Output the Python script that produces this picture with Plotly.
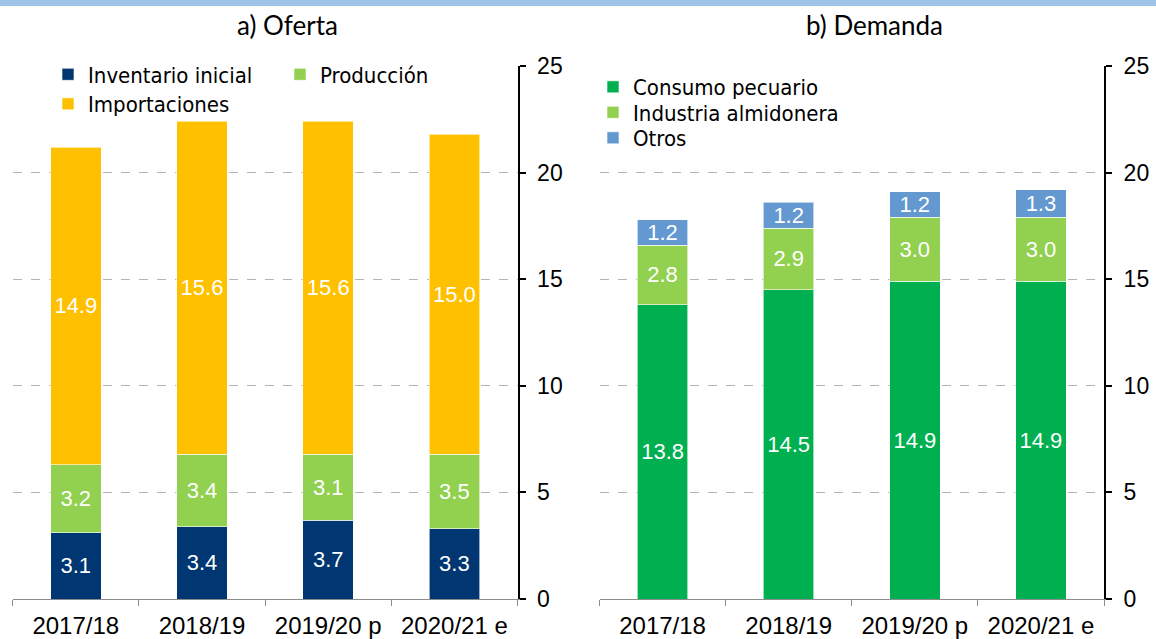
import plotly.graph_objects as go

# marketing years
years = ["2017/18", "2018/19", "2019/20 p", "2020/21 e"]

# a) Oferta (millones de toneladas)
inventario = [3.1, 3.4, 3.7, 3.3]
produccion = [3.2, 3.4, 3.1, 3.5]
importaciones = [14.9, 15.6, 15.6, 15.0]

# b) Demanda
consumo = [13.8, 14.5, 14.9, 14.9]
industria = [2.8, 2.9, 3.0, 3.0]
otros = [1.2, 1.2, 1.2, 1.3]

W, H = 1156, 639
NAVY, LGREEN, YELLOW, GREEN, BLUE = "#003671", "#92D050", "#FFC000", "#00B050", "#6398D0"
LBL = "Liberation Sans, Arial, sans-serif"
NARROW = "Liberation Sans Narrow, Arial Narrow, DejaVu Sans Condensed, sans-serif"


def bar(y, name, color, xa, ya, legend):
    return go.Bar(
        x=years, y=y, name=name, xaxis=xa, yaxis=ya, legend=legend,
        marker=dict(color=color, line=dict(color="rgba(255,255,255,0.6)", width=1)),
        text=y, texttemplate="%{y:.1f}", textposition="inside",
        insidetextanchor="middle", textangle=0, constraintext="none",
        textfont=dict(color="white", size=22, family=LBL),
    )


fig = go.Figure()
fig.add_trace(bar(inventario, "Inventario inicial", NAVY, "x", "y", "legend"))
fig.add_trace(bar(produccion, "Producción", LGREEN, "x", "y", "legend2"))
fig.add_trace(bar(importaciones, "Importaciones", YELLOW, "x", "y", "legend3"))
fig.add_trace(bar(consumo, "Consumo pecuario", GREEN, "x2", "y2", "legend4"))
fig.add_trace(bar(industria, "Industria almidonera", LGREEN, "x2", "y2", "legend5"))
fig.add_trace(bar(otros, "Otros", BLUE, "x2", "y2", "legend6"))

xa = dict(type="category", showline=True, linecolor="#8C8C8C", linewidth=1,
          ticks="outside", tickson="boundaries", ticklen=6, tickcolor="#8C8C8C",
          tickfont=dict(size=24, family=LBL, color="black"), ticklabelstandoff=5,
          showgrid=False, automargin=False)
ya = dict(range=[0, 25], dtick=5, side="right", showline=True, linecolor="black",
          linewidth=2, ticks="outside", ticklen=6, tickcolor="black", tickwidth=2,
          tickfont=dict(size=23, family=LBL, color="black"), ticklabelstandoff=7,
          showgrid=True, gridcolor="#B4B4B4", griddash="dash", gridwidth=1,
          zeroline=False, automargin=False)


def leg(xpx, ypx):
    return dict(x=xpx / W, y=1 - ypx / H, xanchor="left", yanchor="middle",
                bgcolor="rgba(0,0,0,0)", font=dict(size=22, family=NARROW, color="black"))


y0, y1 = 40 / H, 573 / H
fig.update_layout(
    width=W, height=H, margin=dict(l=0, r=0, t=0, b=0),
    paper_bgcolor="white", plot_bgcolor="white",
    barmode="stack", bargap=0.6,
    xaxis=dict(xa, domain=[12.7 / W, 517.5 / W], anchor="y"),
    yaxis=dict(ya, domain=[y0, y1], anchor="x"),
    xaxis2=dict(xa, domain=[599.5 / W, 1104 / W], anchor="y2"),
    yaxis2=dict(ya, domain=[y0, y1], anchor="x2"),
    legend=leg(48, 74.5),
    legend2=leg(280, 74.5),
    legend3=leg(48, 104),
    legend4=leg(593, 87),
    legend5=leg(593, 112.5),
    legend6=leg(593, 138),
    annotations=[
        dict(text="a) Oferta", x=287 / W, y=1 - 25 / H, xref="paper", yref="paper",
             xanchor="center", yanchor="middle", showarrow=False,
             font=dict(size=26, family="Lato, Open Sans, sans-serif", color="black")),
        dict(text="b) Demanda", x=874 / W, y=1 - 25 / H, xref="paper", yref="paper",
             xanchor="center", yanchor="middle", showarrow=False,
             font=dict(size=26, family="Lato, Open Sans, sans-serif", color="black")),
    ],
    shapes=[
        dict(type="rect", xref="paper", yref="paper", x0=0, x1=1, y0=1 - 6 / H, y1=1,
             fillcolor="#9DC3E6", line=dict(width=0), layer="above"),
        # white legend box hiding the top gridline in panel a)
        dict(type="rect", xref="paper", yref="paper", x0=40 / W, x1=505 / W,
             y0=1 - 72 / H, y1=1 - 60 / H, fillcolor="white", line=dict(width=0),
             layer="above"),
    ],
    showlegend=True,
)

# page margin off so the 1156x639 figure fills the window exactly
fig.write_html("out.html", config={"displayModeBar": False},
               post_script="document.body.style.margin='0';")
